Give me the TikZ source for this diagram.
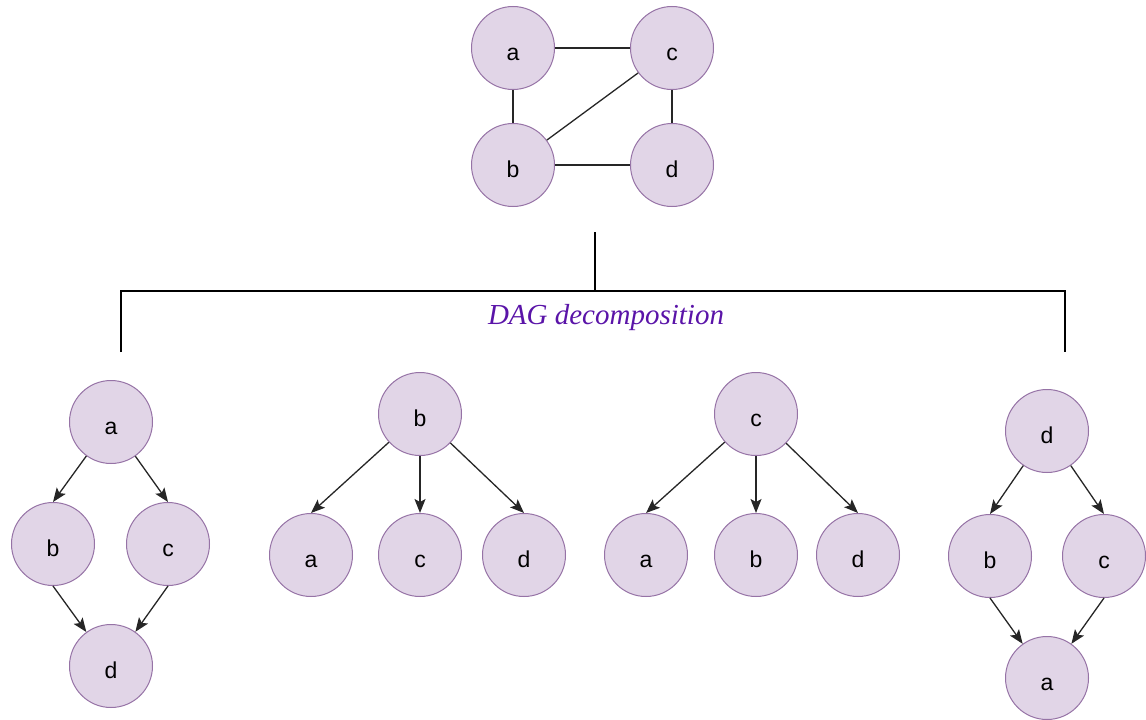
\documentclass[tikz,border=0pt]{standalone}
\usepackage{fontspec}
\setmainfont{Liberation Serif}
\setsansfont{Liberation Sans}
\usetikzlibrary{arrows.meta}
\definecolor{nodefill}{HTML}{E1D5E7}
\definecolor{nodeline}{HTML}{9673A6}
\definecolor{labelpurple}{HTML}{5A14A8}
\begin{document}
\begin{tikzpicture}[x=1pt,y=-1pt,
  vtx/.style={circle,draw=nodeline,fill=nodefill,line width=1pt,minimum size=83pt,inner sep=0pt,
    font=\sffamily\fontsize{23}{26}\selectfont,text height=24pt,text depth=0pt},
  edge/.style={line width=1.3pt,black!85},
  arr/.style={edge,-{Stealth[length=14pt,width=11pt,inset=3pt]}},
  bracket/.style={line width=2.6pt,black}]
\useasboundingbox (0,0) rectangle (1146,720);
% top graph
\node[vtx] (ta) at (513,48) {a};
\node[vtx] (tc) at (672,48) {c};
\node[vtx] (tb) at (513,165) {b};
\node[vtx] (td) at (672,165) {d};
\draw[edge] (ta) -- (tc);
\draw[edge] (ta) -- (tb);
\draw[edge] (tb) -- (tc);
\draw[edge] (tc) -- (td);
\draw[edge] (tb) -- (td);
% bracket
\coordinate (stemtop) at (595,232);
\coordinate (stembot) at (595,291);
\coordinate (bl) at (121,291);
\coordinate (br) at (1065,291);
\coordinate (blend) at (121,352);
\coordinate (brend) at (1065,352);
\draw[bracket] (stemtop) -- (stembot);
\draw[bracket] (blend) -- (bl) -- (br) -- (brend);
\node[font=\itshape\fontsize{29}{32}\selectfont,text=labelpurple,anchor=base] (lbl) at (606,324) {DAG decomposition};
% tree 1
\node[vtx] (a1) at (111,422) {a};
\node[vtx] (b1) at (53,544) {b};
\node[vtx] (c1) at (168,544) {c};
\node[vtx] (d1) at (111,666) {d};
\draw[arr] (a1) -- (b1.north);
\draw[arr] (a1) -- (c1.north);
\draw[arr] (b1.south) -- (d1);
\draw[arr] (c1.south) -- (d1);
% tree 2
\node[vtx] (b2) at (420,414) {b};
\node[vtx] (a2) at (311,555) {a};
\node[vtx] (c2) at (420,555) {c};
\node[vtx] (d2) at (524,555) {d};
\draw[arr] (b2) -- (a2.north);
\draw[arr] (b2) -- (c2.north);
\draw[arr] (b2) -- (d2.north);
% tree 3
\node[vtx] (c3) at (756,414) {c};
\node[vtx] (a3) at (646,555) {a};
\node[vtx] (b3) at (756,555) {b};
\node[vtx] (d3) at (858,555) {d};
\draw[arr] (c3) -- (a3.north);
\draw[arr] (c3) -- (b3.north);
\draw[arr] (c3) -- (d3.north);
% tree 4
\node[vtx] (d4) at (1047,431) {d};
\node[vtx] (b4) at (990,556) {b};
\node[vtx] (c4) at (1104,556) {c};
\node[vtx] (a4) at (1047,678) {a};
\draw[arr] (d4) -- (b4.north);
\draw[arr] (d4) -- (c4.north);
\draw[arr] (b4.south) -- (a4);
\draw[arr] (c4.south) -- (a4);
\end{tikzpicture}
\end{document}
